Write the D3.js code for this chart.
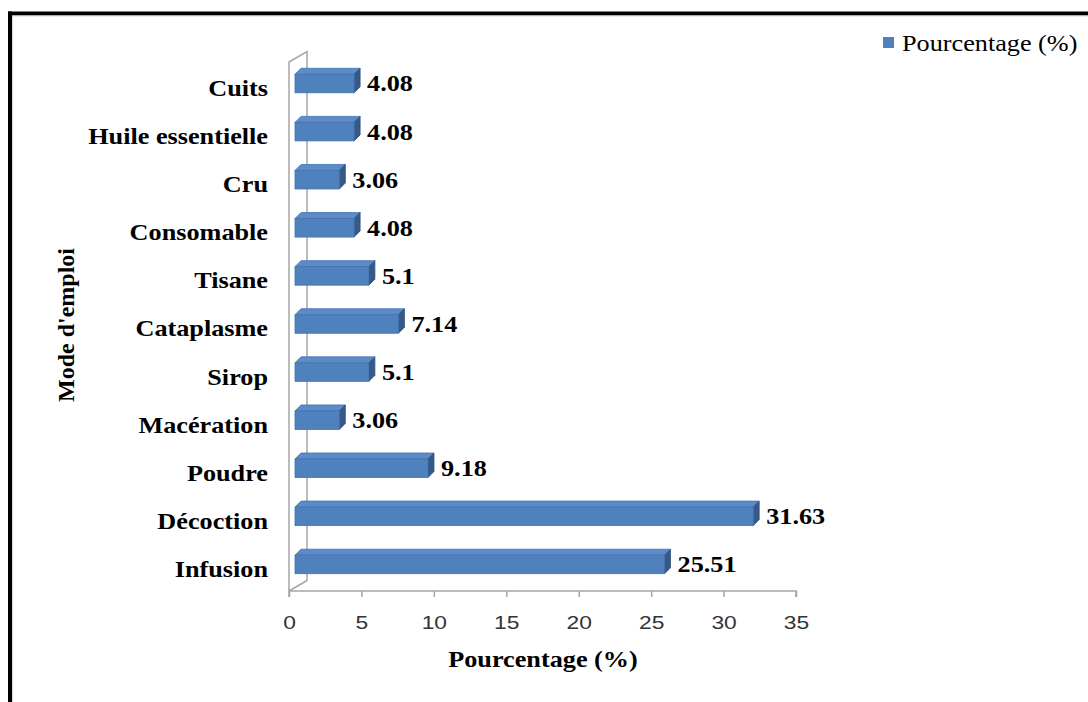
<!DOCTYPE html>
<html>
<head>
<meta charset="utf-8">
<script src="https://cdn.jsdelivr.net/npm/d3@7"></script>
<style>
  html, body { margin: 0; padding: 0; background: #fff; }
  svg { display: block; }
</style>
</head>
<body>
<svg id="chart" width="1088" height="702"></svg>
<script>
// Categories listed from top to bottom of the chart
const categories = ["Cuits", "Huile essentielle", "Cru", "Consomable", "Tisane",
  "Cataplasme", "Sirop", "Macération", "Poudre", "Décoction", "Infusion"];
const values = [4.08, 4.08, 3.06, 4.08, 5.1, 7.14, 5.1, 3.06, 9.18, 31.63, 25.51];
const xTicks = [0, 5, 10, 15, 20, 25, 30, 35];
const seriesName = "Pourcentage (%)";
const xTitle = "Pourcentage (%)";
const yTitle = "Mode d'emploi";

const svg = d3.select("#chart");
const serif = "'Liberation Serif', 'Times New Roman', serif";
const sans = "'Liberation Sans', Arial, sans-serif";
const stretch = 1.14;   // text is set slightly wide

// Frame around the figure
svg.append("line").attr("x1", 8).attr("x2", 1088).attr("y1", 13.5).attr("y2", 13.5)
  .attr("stroke", "#000").attr("stroke-width", 4);
svg.append("line").attr("x1", 10).attr("x2", 10).attr("y1", 11.5).attr("y2", 702)
  .attr("stroke", "#000").attr("stroke-width", 4);
svg.append("line").attr("x1", 12.5).attr("x2", 1088).attr("y1", 16).attr("y2", 16)
  .attr("stroke", "#d8d8d8").attr("stroke-width", 1);
svg.append("line").attr("x1", 12.5).attr("x2", 12.5).attr("y1", 16).attr("y2", 702)
  .attr("stroke", "#d8d8d8").attr("stroke-width", 1);

// Front plane of the 3-D plot area
const plotL = 289, plotR = 796, plotT = 62, plotB = 591;
const depth = [18, -10.5];           // wall depth vector
const barShift = [6, -2.5];          // bar front face offset from front plane
const barDepth = [6, -6];            // bar thickness in depth

const x = d3.scaleLinear().domain([0, 35]).range([plotL, plotR]);
const y = d3.scaleBand().domain(categories).range([plotT, plotB]);
const barH = y.step() * 0.385;

// Side wall outline
const wall = svg.append("g").attr("fill", "none").attr("stroke", "#a6a6a6").attr("stroke-width", 1.5);
wall.append("path").attr("d", d3.line()([
  [plotL, plotB], [plotL, plotT], [plotL + depth[0], plotT + depth[1]],
  [plotL + depth[0], plotB + depth[1]], [plotL, plotB]
]));

// X axis along the front edge of the floor
const xAxis = svg.append("g").attr("transform", `translate(0,${plotB})`)
  .call(d3.axisBottom(x).tickValues(xTicks).tickSize(6).tickFormat(d3.format("d")));
xAxis.select(".domain").attr("stroke", "#a6a6a6").attr("stroke-width", 1.5)
  .attr("d", `M${plotL},6V0H${plotR}V6`);
xAxis.selectAll(".tick line").attr("stroke", "#a6a6a6").attr("stroke-width", 1.5);
xAxis.selectAll(".tick text").attr("font-family", sans).attr("font-size", 19).attr("fill", "#333")
  .attr("y", null).attr("dy", null).attr("dominant-baseline", "central")
  .attr("transform", "translate(0,31.5) scale(1.2,1)");

// Bars drawn as 3-D blocks
const bars = svg.append("g");
categories.forEach((c, i) => {
  const v = values[i];
  const x0 = x(0) + barShift[0];
  const x1 = x(v) + barShift[0];
  const yc = y(c) + y.bandwidth() / 2 + barShift[1];
  const yT = yc - barH / 2, yB = yc + barH / 2;
  const g = bars.append("g");
  // top face
  g.append("path").attr("d", d3.line()([[x0, yT], [x1, yT], [x1 + barDepth[0], yT + barDepth[1]], [x0 + barDepth[0], yT + barDepth[1]]]) + "Z")
    .attr("fill", "#5a8ccb").attr("stroke", "#4372ad").attr("stroke-width", 0.8);
  // end face
  g.append("path").attr("d", d3.line()([[x1, yT], [x1 + barDepth[0], yT + barDepth[1]], [x1 + barDepth[0], yB + barDepth[1]], [x1, yB]]) + "Z")
    .attr("fill", "#36598a").attr("stroke", "#2f4f7c").attr("stroke-width", 0.8);
  // front face
  g.append("rect").attr("x", x0).attr("y", yT).attr("width", x1 - x0).attr("height", barH)
    .attr("fill", "#4f81bd").attr("stroke", "#4673ab").attr("stroke-width", 0.8);
  // value label
  g.append("text")
    .attr("transform", `translate(${x1 + barDepth[0] + 7},${yc}) scale(${stretch},1)`)
    .attr("dominant-baseline", "central")
    .attr("font-family", serif).attr("font-weight", "bold").attr("font-size", 23)
    .attr("fill", "#000").text(v);
});

// Category labels
svg.append("g").selectAll("text").data(categories).join("text")
  .attr("transform", d => `translate(268,${y(d) + y.bandwidth() / 2 + 2}) scale(${stretch},1)`)
  .attr("text-anchor", "end").attr("dominant-baseline", "central")
  .attr("font-family", serif).attr("font-weight", "bold").attr("font-size", 23)
  .attr("fill", "#000").text(d => d);

// Axis titles
svg.append("text").attr("transform", `translate(543,659) scale(${stretch},1)`)
  .attr("text-anchor", "middle").attr("dominant-baseline", "central")
  .attr("font-family", serif).attr("font-weight", "bold").attr("font-size", 23)
  .text(xTitle);
svg.append("text").attr("transform", "translate(66,325) rotate(-90)").attr("text-anchor", "middle")
  .attr("dominant-baseline", "central")
  .attr("font-family", serif).attr("font-weight", "bold").attr("font-size", 24)
  .text(yTitle);

// Legend
const legend = svg.append("g").attr("transform", "translate(883,37)");
legend.append("rect").attr("width", 11).attr("height", 11).attr("fill", "#4f81bd");
legend.append("text").attr("transform", `translate(19,6) scale(${stretch},1)`)
  .attr("dominant-baseline", "central")
  .attr("font-family", serif).attr("font-size", 23).attr("fill", "#000").text(seriesName);
</script>
</body>
</html>
